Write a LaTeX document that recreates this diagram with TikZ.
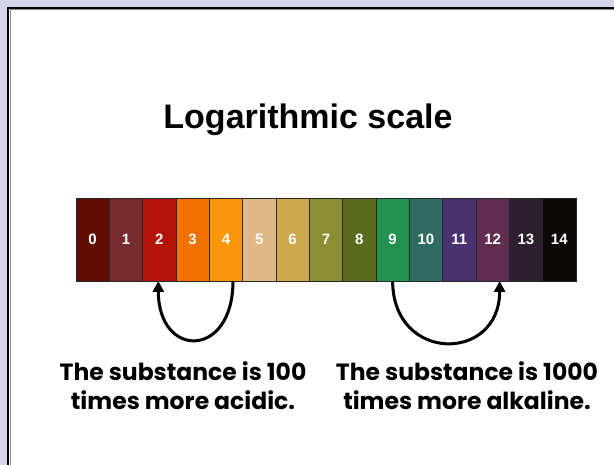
\documentclass[tikz,border=0pt]{standalone}
\usepackage{fontspec}
\setmainfont{Liberation Sans}
\newfontfamily\notefont{Poppins}
\usepackage{tikz}
\usetikzlibrary{positioning, arrows.meta, calc}

\definecolor{slidebg}{HTML}{D4D4EA}
\definecolor{ph0}{HTML}{620A04}
\definecolor{ph1}{HTML}{772B2F}
\definecolor{ph2}{HTML}{B3140A}
\definecolor{ph3}{HTML}{F07000}
\definecolor{ph4}{HTML}{FA960A}
\definecolor{ph5}{HTML}{E0B885}
\definecolor{ph6}{HTML}{CFA84E}
\definecolor{ph7}{HTML}{8B8E32}
\definecolor{ph8}{HTML}{5A6B20}
\definecolor{ph9}{HTML}{23924F}
\definecolor{ph10}{HTML}{2F6B62}
\definecolor{ph11}{HTML}{483270}
\definecolor{ph12}{HTML}{5F2E50}
\definecolor{ph13}{HTML}{2D1F30}
\definecolor{ph14}{HTML}{0D0909}

\begin{document}
\begin{tikzpicture}[
            x=1pt, y=-1pt,
            cell/.style={draw=black!85, line width=0.8pt, rectangle, inner sep=0pt, outer sep=0pt,
                minimum width=33.33pt, minimum height=83pt,
                text=white, font=\fontsize{15}{17}\selectfont\bfseries},
            title/.style={font=\fontsize{34}{40}\selectfont\bfseries},
            note/.style={align=center, font=\notefont\fontsize{23.5}{29}\selectfont\bfseries},
            jump/.style={line width=3pt, -{Triangle[length=11pt, width=11pt]}}
        ]
        \useasboundingbox (0,0) rectangle (614,465);

        % Hintergrund
        \fill[white] (0,0) rectangle (630,480);
        \fill[slidebg] (-10,-10) rectangle (630,7.5);
        \fill[slidebg] (-10,-10) rectangle (7.5,480);
        \draw[black!45, line width=1pt] (10,480) -- (10,10) -- (630,10);
        \draw[line width=2.2pt] (8,480) -- (8,8) -- (630,8);

        % Titel
        \node[title] (head) at (308,120) {Logarithmic scale};

        % pH-Skala
        \foreach \i in {0,...,14}
            \node[cell, fill=ph\i] (c\i) at ({76+33.333*(\i+0.5)},239.5) {\i};

        % Pfeile
        \draw[jump] ([xshift=7pt]c4.south) .. controls +(0,78) and +(0,78) .. ([xshift=-1pt]c2.south);
        \draw[jump] (c9.south) .. controls +(0,82) and +(0,82) .. ([xshift=7pt]c12.south);

        % Texte
        \node[note] (acid) at (183,386) {The substance is 100\\times more acidic.};
        \node[note] (base) at (467,386) {The substance is 1000\\times more alkaline.};

    \end{tikzpicture}
\end{document}
